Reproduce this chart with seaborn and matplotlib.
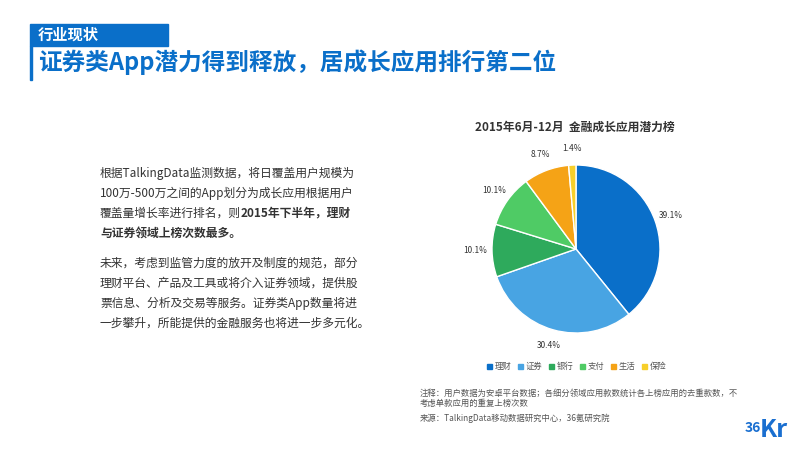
import matplotlib
matplotlib.use("Agg")
import matplotlib.pyplot as plt
import seaborn as sns
import numpy as np
from matplotlib.patches import Rectangle

sns.set_theme(style="white")
plt.rcParams['font.family'] = ['Noto Sans CJK SC', 'DejaVu Sans']

categories = ["理财", "证券", "银行", "支付", "生活", "保险"]
values = [39.1, 30.4, 10.1, 10.1, 8.7, 1.4]
colors = ["#0a6fc9", "#48a4e3", "#2eaa5c", "#4fcb65", "#f5a316", "#f7cf2a"]

fig = plt.figure(figsize=(8, 4.5), dpi=100)
fig.patch.set_facecolor("white")

# header
fig.patches.append(Rectangle((30/800, 1-46/450), 138/800, 22/450, transform=fig.transFigure, color="#0a6fc9"))
fig.patches.append(Rectangle((30/800, 1-80/450), 2/800, 34/450, transform=fig.transFigure, color="#0a6fc9"))
fig.text(38/800, 1-35/450, "行业现状", color="white", fontsize=11, fontweight="bold", va="center")
fig.text(38/800, 1-62/450, "证券类App潜力得到释放，居成长应用排行第二位", color="#0a6fc9", fontsize=17, fontweight="bold", va="center")

# left text
lines = [
    ("根据TalkingData监测数据，将日覆盖用户规模为", 173),
    ("100万-500万之间的App划分为成长应用根据用户", 193),
    ("覆盖量增长率进行排名，则", 213),
    ("与证券领域上榜次数最多。", 233),
    ("未来，考虑到监管力度的放开及制度的规范，部分", 263),
    ("理财平台、产品及工具或将介入证券领域，提供股", 283),
    ("票信息、分析及交易等服务。证券类App数量将进", 303),
    ("一步攀升，所能提供的金融服务也将进一步多元化。", 323),
]
txts = []
for i, (t, y) in enumerate(lines):
    fw = "bold" if i == 3 else "normal"
    txts.append(fig.text(100/800, 1-y/450, t, fontsize=8.5, color="#333333", va="center", fontweight=fw))
fig.canvas.draw()
bb = txts[2].get_window_extent()
fig.text(bb.x1/800, 1-213/450, "2015年下半年，理财", fontsize=8.5, color="#333333", va="center", fontweight="bold")

fig.text(575/800, 1-127/450, "2015年6月-12月  金融成长应用潜力榜", fontsize=8.5, fontweight="bold", color="#333333", ha="center", va="center")

ax = fig.add_axes([(576-105)/800, 1-(249+105)/450, 210/800, 210/450])
wedges, _ = ax.pie(values, colors=colors, startangle=90, counterclock=False,
                   wedgeprops=dict(edgecolor="white", linewidth=1))
ax.set_aspect("equal")
for w, v in zip(wedges, values):
    mid = np.deg2rad((w.theta1 + w.theta2) / 2)
    r = 1.2
    ax.text(r*np.cos(mid), r*np.sin(mid), f"{v}%", fontsize=6, ha="center", va="center", color="#333333")

x0 = 487
for c, lab in zip(colors, categories):
    fig.patches.append(Rectangle((x0/800, 1-369/450), 5/800, 5/450, transform=fig.transFigure, color=c))
    fig.text((x0+8)/800, 1-366/450, lab, fontsize=6, color="#555555", va="center")
    x0 += 31

fig.text(420/800, 1-393/450, "注释：用户数据为安卓平台数据；各细分领域应用款数统计各上榜应用的去重款数，不", fontsize=6, color="#555555", va="center")
fig.text(420/800, 1-403/450, "考虑单款应用的重复上榜次数", fontsize=6, color="#555555", va="center")
fig.text(420/800, 1-418/450, "来源：TalkingData移动数据研究中心，36氪研究院", fontsize=6, color="#555555", va="center")
fig.text(745/800, 1-428/450, "36", fontsize=10, color="#1a6fd0", fontweight="bold", va="center")
fig.text(760/800, 1-430/450, "Kr", fontsize=18, color="#1a6fd0", fontweight="bold", va="center")

fig.savefig("out.png", dpi=100)
